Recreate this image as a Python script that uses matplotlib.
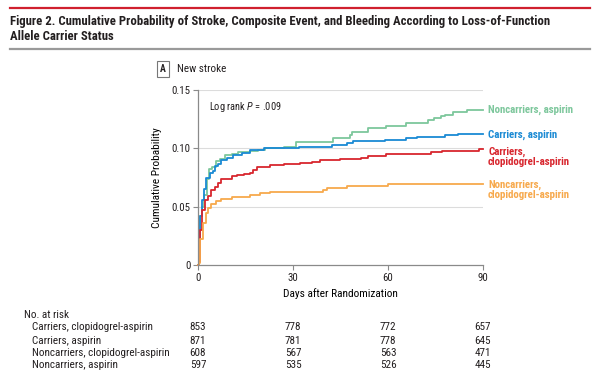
import matplotlib
matplotlib.use("Agg")
import matplotlib.pyplot as plt
import matplotlib.transforms as mtransforms
from matplotlib import font_manager

# step data (days, cumulative probability)
days_nc_asp = [0, 0.3, 0.5, 1.2, 1.9, 2.7, 3.5, 4.5, 5.8, 7, 8.5, 10.6, 12.7, 16.4, 19, 21, 27, 31, 42.7, 48, 48.5, 53.7, 59.5, 65.8, 72.6, 74.6, 76.7, 78, 80.5, 84.8, 90]
prob_nc_asp = [0, 0.005, 0.042, 0.05, 0.06, 0.074, 0.082, 0.084, 0.089, 0.091, 0.094, 0.095, 0.097, 0.098, 0.099, 0.100, 0.101, 0.1055, 0.1087, 0.1115, 0.1144, 0.1178, 0.119, 0.1215, 0.124, 0.126, 0.128, 0.129, 0.1315, 0.133, 0.133]

days_c_asp = [0, 0.3, 0.5, 1.3, 1.9, 2.65, 3.7, 4.6, 5.3, 6.4, 7.4, 9, 11.1, 13.8, 16.4, 20.7, 31.8, 42.4, 47, 49, 59, 65.8, 69, 78, 82, 90]
prob_c_asp = [0, 0.005, 0.042, 0.056, 0.065, 0.075, 0.079, 0.081, 0.085, 0.087, 0.090, 0.092, 0.094, 0.096, 0.0985, 0.100, 0.1015, 0.103, 0.1044, 0.106, 0.107, 0.109, 0.110, 0.1115, 0.112, 0.112]

days_c_clop = [0, 0.3, 0.74, 1.4, 2.1, 3.2, 4.2, 5.3, 6.4, 7.4, 10.6, 12.2, 14.5, 16.4, 17.5, 18.6, 22.8, 27, 32.3, 35.9, 38.5, 44.8, 51.6, 53.7, 59.5, 73.7, 76.9, 88.8, 90]
prob_c_clop = [0, 0.003, 0.030, 0.047, 0.056, 0.059, 0.0645, 0.067, 0.070, 0.074, 0.076, 0.077, 0.078, 0.079, 0.0815, 0.084, 0.086, 0.087, 0.0875, 0.0887, 0.0898, 0.091, 0.092, 0.0936, 0.095, 0.0967, 0.098, 0.0996, 0.0996]

days_nc_clop = [0, 0.3, 0.74, 1.6, 2.4, 3.2, 4.2, 5.8, 7.4, 10.6, 16.4, 19.6, 22.8, 39.5, 40.6, 46.9, 60, 90]
prob_nc_clop = [0, 0.002, 0.022, 0.036, 0.0446, 0.049, 0.052, 0.0545, 0.0565, 0.058, 0.060, 0.0617, 0.063, 0.0645, 0.066, 0.068, 0.0697, 0.0697]

risk_days = [0, 30, 60, 90]
risk_groups = ["Carriers, clopidogrel-aspirin", "Carriers, aspirin",
               "Noncarriers, clopidogrel-aspirin", "Noncarriers, aspirin"]
risk_c_clop = [853, 778, 772, 657]
risk_c_asp = [871, 781, 778, 645]
risk_nc_clop = [608, 567, 563, 471]
risk_nc_asp = [597, 535, 526, 445]

GREEN = "#7dc79c"
BLUE = "#1a8ad4"
RED = "#d8262e"
ORANGE = "#f7a94c"
TXT = "#231f20"

# the journal uses a condensed face; take the narrowest one installed
installed = [(f.name, f.stretch) for f in font_manager.fontManager.ttflist]
names = set(n for n, s in installed)
FAM = 'Roboto'
STRETCH = 'normal'
if 'Liberation Sans Narrow' in names:
    FAM = 'Liberation Sans Narrow'
elif 'Roboto Condensed' in names:
    FAM = 'Roboto Condensed'
elif any(n == 'DejaVu Sans' and s not in ('normal', 500) for n, s in installed):
    FAM = 'DejaVu Sans'
    STRETCH = 'condensed'

plt.rcParams.update({
    'font.family': [FAM, 'DejaVu Sans'],
    'font.stretch': STRETCH,
    'mathtext.fontset': 'custom',
    'mathtext.it': FAM + ':italic',
    'mathtext.rm': FAM,
    'text.color': TXT,
})

fig = plt.figure(figsize=(6, 3.78), dpi=100)

# header rules + title
fig.add_artist(plt.Line2D([10/600, 590/600], [1-7.5/378, 1-7.5/378], color="#d0202e", lw=1.6))
fig.add_artist(plt.Line2D([10/600, 590/600], [1-49/378, 1-49/378], color="#9a9a9a", lw=1.6))
t1 = fig.text(10/600, 1-21/378, "Figure 2. Cumulative Probability of Stroke, Composite Event, and Bleeding According to Loss-of-Function",
              fontsize=9.2, fontweight='bold', va='center', ha='left')
t2 = fig.text(10/600, 1-36.5/378, "Allele Carrier Status", fontsize=9.2, fontweight='bold', va='center', ha='left')

# shrink the title until it spans the same width as in the journal figure
fig.canvas.draw()
w = t1.get_window_extent().width
if w > 548:
    fs = 9.2 * 548 / w
    t1.set_fontsize(fs)
    t2.set_fontsize(fs)
SCALE = min(1.0, 548 / w)

# panel tag
fig.text(163/600, 1-69/378, "A", fontsize=7, fontweight='bold', ha='center', va='center',
         bbox=dict(boxstyle='square,pad=0.3', fc='white', ec='#777777', lw=0.8))
fig.text(177/600, 1-69/378, "New stroke", fontsize=8, ha='left', va='center')

ax = fig.add_axes([198/600, 1-265/378, 285/600, 175/378])

ax.step(days_nc_asp, prob_nc_asp, where='post', color=GREEN, lw=1.3, clip_on=False)
ax.step(days_c_asp, prob_c_asp, where='post', color=BLUE, lw=1.3, clip_on=False)
ax.step(days_c_clop, prob_c_clop, where='post', color=RED, lw=1.3, clip_on=False)
ax.step(days_nc_clop, prob_nc_clop, where='post', color=ORANGE, lw=1.3, clip_on=False)

ax.set_xlim(0, 90)
ax.set_ylim(0, 0.15)
ax.set_xticks(risk_days)
ax.set_yticks([0, 0.05, 0.10, 0.15])
ax.set_yticklabels(["0", "0.05", "0.10", "0.15"])
for yv in [0.05, 0.10, 0.15]:
    ax.axhline(yv, color="#dcdcdc", lw=0.8, zorder=0)

for s in ['top', 'right']:
    ax.spines[s].set_visible(False)
for s in ['left', 'bottom']:
    ax.spines[s].set_color("#8a8a8a")
    ax.spines[s].set_linewidth(0.9)
ax.tick_params(axis='both', length=3.5, width=0.8, color="#8a8a8a", labelsize=7.8, pad=2, labelcolor=TXT)

ax.set_xlabel("Days after Randomization", fontsize=8.2, labelpad=4)
ax.set_ylabel("Cumulative Probability", fontsize=8.2, labelpad=7)

ax.text(3.5, 0.135, "Log rank $P$ = .009", fontsize=7.5, ha='left', va='center')

# curve labels at the right
lab_fs = 7.8 * max(SCALE, 0.85)
ax.text(91.6, 0.133, "Noncarriers, aspirin", color=GREEN, fontsize=lab_fs, fontweight='bold', va='center', clip_on=False)
ax.text(91.6, 0.112, "Carriers, aspirin", color=BLUE, fontsize=lab_fs, fontweight='bold', va='center', clip_on=False)
ax.text(91.6, 0.0925, "Carriers,\nclopidogrel-aspirin", color=RED, fontsize=lab_fs, fontweight='bold', va='center',
        linespacing=1.05, clip_on=False)
ax.text(91.6, 0.0645, "Noncarriers,\nclopidogrel-aspirin", color=ORANGE, fontsize=lab_fs, fontweight='bold', va='center',
        linespacing=1.05, clip_on=False)

# number at risk table
tab_fs = 8.0
trans = mtransforms.blended_transform_factory(ax.transData, fig.transFigure)
fig.text(23.5/600, 1-315/378, "No. at risk", fontsize=tab_fs, va='center')
row_y = [327.3, 340.5, 352.7, 364.5]
rows = [risk_c_clop, risk_c_asp, risk_nc_clop, risk_nc_asp]
for name, vals, yy in zip(risk_groups, rows, row_y):
    fig.text(32/600, 1-yy/378, name, fontsize=tab_fs, va='center')
    for d, v in zip(risk_days, vals):
        ax.text(d, 1-yy/378, str(v), transform=trans, fontsize=tab_fs, ha='center', va='center')

plt.savefig("out.png", dpi=100)
